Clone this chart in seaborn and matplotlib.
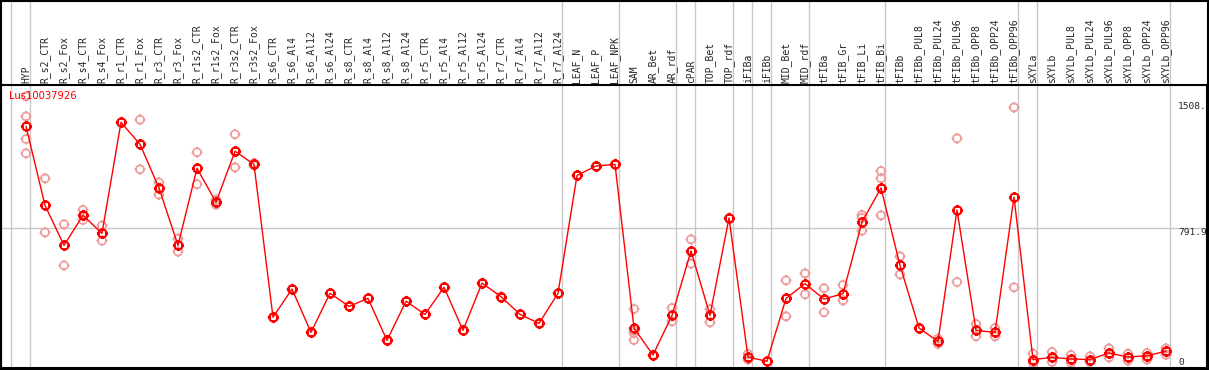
import numpy as np
import pandas as pd
import matplotlib
matplotlib.use('Agg')
import matplotlib.pyplot as plt
import matplotlib.transforms as mtransforms
from matplotlib.path import Path
from matplotlib.patches import Rectangle
import seaborn as sns

sns.set_style('white')
plt.rcParams['font.family'] = ['DejaVu Sans']

# 样本名称
samples = ['HYP', 'R_s2_CTR', 'R_s2_Fox', 'R_s4_CTR', 'R_s4_Fox', 'R_r1_CTR', 'R_r1_Fox',
           'R_r3_CTR', 'R_r3_Fox', 'R_r1s2_CTR', 'R_r1s2_Fox', 'R_r3s2_CTR', 'R_r3s2_Fox',
           'R_s6_CTR', 'R_s6_Al4', 'R_s6_Al12', 'R_s6_Al24', 'R_s8_CTR', 'R_s8_Al4',
           'R_s8_Al12', 'R_s8_Al24', 'R_r5_CTR', 'R_r5_Al4', 'R_r5_Al12', 'R_r5_Al24',
           'R_r7_CTR', 'R_r7_Al4', 'R_r7_Al12', 'R_r7_Al24', 'LEAF_N', 'LEAF_P', 'LEAF_NPK',
           'SAM', 'AR_Bet', 'AR_rdf', 'cPAR', 'TOP_Bet', 'TOP_rdf', 'iFIBa', 'iFIBb',
           'MID_Bet', 'MID_rdf', 'tFIBa', 'tFIB_Gr', 'tFIB_Li', 'tFIB_Bi', 'tFIBb',
           'tFIBb_PUL8', 'tFIBb_PUL24', 'tFIBb_PUL96', 'tFIBb_OPP8', 'tFIBb_OPP24', 'tFIBb_OPP96',
           'sXYLa', 'sXYLb', 'sXYLb_PUL8', 'sXYLb_PUL24', 'sXYLb_PUL96', 'sXYLb_OPP8',
           'sXYLb_OPP24', 'sXYLb_OPP96']

# 平均表达量
mean_expr = [1392, 927, 692, 868, 762, 1415, 1286, 1029, 692, 1145, 945, 1245, 1168,
             269, 435, 180, 410, 333, 380, 133, 363, 286, 445, 192, 470, 390, 286, 233, 410,
             1103, 1158, 1168, 205, 47, 280, 659, 280, 853, 35, 10, 380, 466,
             376, 408, 829, 1029, 574, 206, 127, 900, 192, 180, 976,
             20, 33, 24, 20, 59, 35, 43, 69]

# 重复样本
replicates = [[1568, 1450, 1317, 1233], [1086, 768], [815, 574], [900, 841], [808, 719],
              [1415], [1431, 1139], [1062, 990], [731, 655], [1239, 1051], [960, 931],
              [1345, 1150], [1176, 1162], [269], [435], [180], [410], [333], [380], [133],
              [363], [286], [445], [192], [470], [390], [286], [233], [410], [1103], [1158],
              [1168], [318, 190, 176, 135], [47], [323, 245], [727, 584], [316, 239], [853],
              [53, 20], [10], [486, 274], [527, 404], [439, 298], [459, 368], [870, 853, 778],
              [1129, 1086, 868], [627, 521], [206], [143, 112], [1321, 476], [229, 157],
              [206, 157], [1503, 445], [55, 0], [65, 6], [47, 2], [39, 6], [86, 33],
              [55, 14], [59, 20], [86, 49]]

# 分组分隔线（每组最后一个样本的位置）
group_ends = [-1, 0, 28, 31, 34, 35, 37, 38, 39, 41, 45, 52, 53, 60]

gene = 'Lus10037926'
right_labels = [(1508, '1508.'), (791.9, '791.9'), (0, '0')]

pos = np.arange(len(samples))
df_mean = pd.DataFrame({'pos': pos, 'expr': mean_expr})
df_rep = pd.DataFrame([(i, v) for i, vals in enumerate(replicates) for v in vals],
                      columns=['pos', 'expr'])

# 圆圈加十字刻度的标记
circ = Path.unit_circle()
verts = list(circ.vertices)
codes = list(circ.codes)
for dx, dy in [(0, 1), (0, -1), (1, 0), (-1, 0)]:
    verts += [(dx * 0.7, dy * 0.7), (dx * 1.35, dy * 1.35)]
    codes += [Path.MOVETO, Path.LINETO]
mk = Path(verts, codes)

RED = '#ff0000'
PINK = '#ee9c9c'
GRAY = '#c8c8c8'

W, H = 1209, 370
fig = plt.figure(figsize=(W / 100, H / 100), dpi=100)
ax = fig.add_axes([1 / W, (H - 368) / H, 1206 / W, 283 / H])

sns.scatterplot(data=df_rep, x='pos', y='expr', marker=mk, s=62, color=PINK,
                linewidth=1.2, ax=ax, zorder=2, legend=False)
ax.collections[-1].set_facecolor('none')
ax.collections[-1].set_edgecolor(PINK)

sns.lineplot(data=df_mean, x='pos', y='expr', color=RED, lw=1, marker=mk, markersize=8,
             markerfacecolor='none', markeredgecolor=RED, markeredgewidth=1.5,
             ax=ax, zorder=3)

ax.set_xlim(-25 / 19, (1207 - 26) / 19)
ax.set_ylim(-29.4, 1634.6)

for g in group_ends:
    ax.axvline(g + 0.22, ymin=0, ymax=368 / 283, color=GRAY, lw=1, zorder=0, clip_on=False)
ax.axhline(791.9, color=GRAY, lw=1, zorder=0)

ax.xaxis.tick_top()
ax.set_xticks(pos)
ax.set_xticklabels(samples, rotation=90, fontsize=7, family='DejaVu Sans Mono')
ax.tick_params(axis='x', length=0, pad=1.5)
ax.set_yticks([])
ax.set_xlabel('')
ax.set_ylabel('')
for s in ax.spines.values():
    s.set_color('black')
    s.set_linewidth(1.5)

ax.text(0.007, 0.961, gene, color=RED, fontsize=7.2, ha='left', va='center',
        transform=ax.transAxes)

trans = mtransforms.blended_transform_factory(ax.transAxes, ax.transData)
for val, lab in right_labels:
    va = 'top' if lab == '791.9' else 'center'
    ax.text(0.976, val, lab, fontsize=6.8, family='DejaVu Sans Mono', ha='left', va=va,
            transform=trans)

fig.patches.append(Rectangle((0.5 / W, 0.5 / H), (W - 2) / W, (H - 1.5) / H, fill=False,
                             edgecolor='black', lw=1.5, transform=fig.transFigure))

fig.savefig('out.png', dpi=100)
